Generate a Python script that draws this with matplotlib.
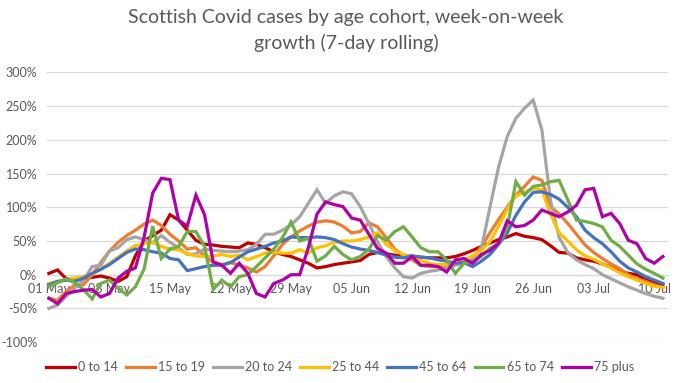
import matplotlib
matplotlib.use("Agg")
import matplotlib.pyplot as plt
import numpy as np

plt.rcParams['font.family'] = ['Lato', 'DejaVu Sans']

title_lines = ["Scottish Covid cases by age cohort, week-on-week", "growth (7-day rolling)"]
tick_labels = ["01 May", "08 May", "15 May", "22 May", "29 May", "05 Jun",
               "12 Jun", "19 Jun", "26 Jun", "03 Jul", "10 Jul"]
series_names = ["0 to 14", "15 to 19", "20 to 24", "25 to 44", "45 to 64", "65 to 74", "75 plus"]

# daily values, 01 May .. 11 Jul (percent)
age_0_14 = [2, 7, -6, -8, -6, -4, -2, -5, -10, -3,
            28, 50, 58, 66, 89, 81, 66, 51, 45, 44,
            42, 41, 40, 47, 45, 40, 34, 30, 27, 22,
            17, 10, 12, 15, 17, 19, 21, 30, 33, 31,
            29, 28, 27, 26, 25, 25, 25, 27, 31, 36,
            42, 47, 52, 56, 61, 57, 55, 52, 43, 33,
            32, 25, 22, 20, 16, 11, 5, 2, 0, -7,
            -12, -15]
age_15_19 = [-35, -38, -25, -15, -15, 0, 18, 35, 48, 58,
             66, 75, 81, 73, 60, 50, 38, 40, 28, 18,
             15, 18, 14, 10, 4, 12, 28, 45, 56, 65,
             72, 78, 80, 78, 72, 62, 64, 77, 71, 55,
             38, 28, 22, 14, 12, 12, 13, 17, 20, 23,
             42, 62, 82, 100, 118, 131, 145, 140, 101, 90,
             76, 60, 44, 33, 24, 16, 9, 0, -6, -10,
             -15, -19]
age_20_24 = [-50, -45, -32, -20, -8, 12, 14, 35, 40, 52,
             56, 52, 47, 58, 48, 40, 30, 31, 38, 36,
             35, 34, 35, 37, 45, 60, 60, 66, 74, 86,
             106, 126, 106, 117, 123, 120, 101, 76, 49, 27,
             10, -3, -5, 2, 5, 7, 10, 14, 18, 24,
             38, 100, 160, 205, 232, 247, 259, 215, 110, 55,
             33, 22, 15, 9, 0, -6, -12, -18, -23, -28,
             -32, -35]
age_25_44 = [-13, -10, -8, -5, -3, 1, 8, 17, 26, 35,
             43, 46, 48, 42, 38, 37, 31, 28, 27, 28,
             30, 27, 29, 22, 27, 32, 33, 32, 32, 37,
             32, 40, 43, 48, 50, 50, 52, 56, 62, 45,
             36, 30, 25, 21, 17, 15, 15, 17, 22, 28,
             36, 49, 72, 97, 117, 122, 128, 126, 90, 62,
             50, 37, 28, 23, 16, 10, 3, -3, -8, -13,
             -17, -19]
age_45_64 = [-15, -10, -8, -10, -5, 2, 8, 15, 24, 33,
             38, 37, 34, 32, 24, 22, 6, 9, 12, 14,
             14, 18, 26, 34, 38, 42, 47, 50, 56, 55,
             55, 56, 55, 52, 46, 41, 38, 36, 33, 29,
             26, 25, 28, 26, 25, 22, 20, 17, 18, 12,
             20, 30, 45, 62, 88, 108, 122, 123, 119, 112,
             100, 86, 66, 55, 46, 34, 20, 10, 4, -3,
             -8, -13]
age_65_74 = [-18, -12, -6, -12, -22, -36, -13, -8, -20, -30,
             -18, 8, 72, 24, 38, 42, 64, 64, 42, -22,
             -8, -18, -3, 0, 12, 25, 38, 55, 78, 50,
             54, 20, 28, 42, 30, 22, 27, 38, 58, 51,
             64, 71, 56, 40, 34, 34, 22, 2, 17, 19,
             27, 39, 46, 70, 138, 118, 131, 133, 138, 140,
             111, 81, 79, 76, 71, 51, 42, 29, 16, 8,
             2, -5]
age_75_plus = [-35, -43, -28, -25, -23, -22, -33, -28, -5, 5,
               10, 55, 121, 143, 141, 81, 72, 118, 89, 19,
               14, 2, 17, 2, -28, -33, -13, -8, 0, 0,
               40, 90, 108, 104, 101, 84, 81, 60, 39, 32,
               17, 17, 27, 14, 14, 12, 4, 22, 24, 17,
               30, 36, 47, 80, 71, 73, 81, 96, 91, 86,
               93, 103, 126, 128, 86, 91, 76, 51, 46, 24,
               17, 27]

colors = ["#C00000", "#ED7D31", "#A5A5A5", "#FFC000", "#4472C4", "#70AD47", "#B000A8"]
all_series = [age_0_14, age_15_19, age_20_24, age_25_44, age_45_64, age_65_74, age_75_plus]

fig = plt.figure(figsize=(6.8, 3.83), dpi=100)
ax = fig.add_axes([0.069, 0.1068, 0.913, 0.704])

days = np.arange(len(age_0_14))
handles = []
for vals, c, name in zip(all_series, colors, series_names):
    h, = ax.plot(days, vals, color=c, lw=2.3, solid_joinstyle='miter', label=name)
    handles.append(h)

ax.set_xlim(-0.23, 71.56)
ax.set_ylim(-100, 300)
yt = list(range(-100, 301, 50))
ax.set_yticks(yt)
ax.set_yticklabels([f"{v}%" for v in yt])
ax.set_xticks(np.arange(0, 71, 7))
ax.set_xticklabels(tick_labels)

ax.grid(axis='y', color='#d9d9d9', lw=0.9)
ax.set_axisbelow(True)
for s in ['left', 'right', 'top']:
    ax.spines[s].set_visible(False)
ax.spines['bottom'].set_position(('data', 0))
ax.spines['bottom'].set_color('#d9d9d9')
ax.spines['bottom'].set_linewidth(0.9)
ax.spines['bottom'].set_zorder(0.5)
ax.tick_params(axis='x', length=0, pad=6, labelsize=9, labelcolor='#595959')
ax.tick_params(axis='y', length=0, pad=7, labelsize=9, labelcolor='#595959')

fig.text(0.509, 1 - 17 / 383, title_lines[0], ha='center', va='center', fontsize=14, color='#595959')
fig.text(0.509, 1 - 43 / 383, title_lines[1], ha='center', va='center', fontsize=14, color='#595959')

fig.legend(handles, series_names, loc='center', bbox_to_anchor=(0.5, 1 - 367 / 383), ncol=7,
           frameon=False, fontsize=9, handlelength=2.3, handletextpad=0.25, columnspacing=0.65,
           labelcolor='#595959')

fig.savefig("out.png", dpi=100)
